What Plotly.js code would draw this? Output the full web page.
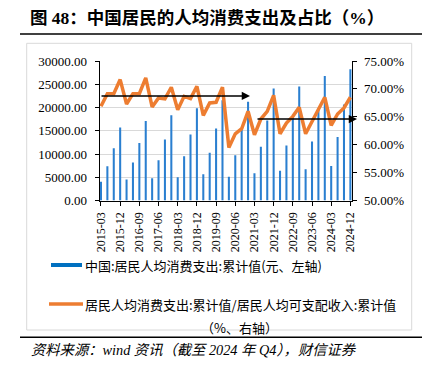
<!DOCTYPE html>
<html>
<head>
<meta charset="utf-8">
<script src="https://cdn.plot.ly/plotly-3.0.1.min.js"></script>
<style>html,body{margin:0;padding:0;background:#fff;}#chart{width:427px;height:365px;}</style>
</head>
<body>
<div id="chart"></div>
<script>
// ---- data ----
const quarters = [
  "2015-03","2015-06","2015-09","2015-12",
  "2016-03","2016-06","2016-09","2016-12",
  "2017-03","2017-06","2017-09","2017-12",
  "2018-03","2018-06","2018-09","2018-12",
  "2019-03","2019-06","2019-09","2019-12",
  "2020-03","2020-06","2020-09","2020-12",
  "2021-03","2021-06","2021-09","2021-12",
  "2022-03","2022-06","2022-09","2022-12",
  "2023-03","2023-06","2023-09","2023-12",
  "2024-03","2024-06","2024-09","2024-12"
];
const consumption = [
  4050, 7390, 11260, 15712,
  4520, 8180, 12340, 17111,
  4810, 8680, 13130, 18322,
  5020, 9540, 14200, 19853,
  5670, 10260, 15500, 21559,
  5082, 9718, 15158, 21210,
  5880, 11550, 17217, 24100,
  6393, 11850, 17878, 24538,
  6700, 12700, 19530, 26796,
  7400, 13630, 20631, 28227
];
const ratio = [
  66.9, 69.15, 69.15, 71.67,
  67.3, 69.15, 69.15, 71.97,
  66.76, 68.37, 68.2, 70.3,
  66.28, 68.67, 68.26, 70.47,
  65.26, 67.48, 67.6, 70.3,
  59.5, 61.96, 62.86, 65.98,
  61.78, 64.6, 65.98, 68.85,
  61.96, 63.88, 65.08, 66.7,
  61.96, 64.18, 66.1, 68.5,
  63.46, 65.5, 66.58, 68.5
];
const tickLabels = ["2015-03","2015-12","2016-09","2017-06","2018-03","2018-12","2019-09",
  "2020-06","2021-03","2021-12","2022-09","2023-06","2024-03","2024-12"];
const trendLevels = [68.74, 64.6];
const seriesNames = ["中国:居民人均消费支出:累计值(元、左轴)",
  "居民人均消费支出:累计值/居民人均可支配收入:累计值", "（%、右轴）"];
const titleText = "图 48：中国居民的人均消费支出及占比（%）";
const sourceText = "资料来源：wind 资讯（截至 2024 年 Q4），财信证券";

// ---- layout helpers ----
const W = 427, H = 365;
const px = v => v / W;
const py = v => 1 - v / H;
const BLUE = "#2a7fd0", ORANGE = "#ED7D31";
const serif = "Liberation Serif, Times New Roman, serif";
const cjk = "Noto Sans CJK SC, Noto Sans, sans-serif";

const traces = [
  {type: "bar", x: quarters, y: consumption, name: seriesNames[0],
   marker: {color: BLUE, line: {width: 0}}, width: 0.32, yaxis: "y", hoverinfo: "none"},
  {type: "scatter", mode: "lines", x: quarters, y: ratio, name: seriesNames[1],
   line: {color: ORANGE, width: 3.5}, yaxis: "y2", hoverinfo: "none"}
];

const layout = {
  width: W, height: H, autosize: false,
  margin: {l: 0, r: 0, t: 0, b: 0, pad: 0},
  paper_bgcolor: "#fff", plot_bgcolor: "rgba(0,0,0,0)",
  showlegend: false,
  font: {family: serif, color: "#000", size: 13},
  xaxis: {
    type: "category", domain: [px(99.7), px(352.3)], range: [-0.2, 39.3],
    tickmode: "array", tickvals: tickLabels, ticktext: tickLabels,
    tickangle: -90, ticks: "outside", ticklen: 4, tickcolor: "#000", tickwidth: 1,
    tickfont: {family: serif, size: 12, color: "#000"},
    showline: true, linecolor: "#000", linewidth: 1, showgrid: false, zeroline: false,
    ticklabelstandoff: 2
  },
  yaxis: {
    domain: [py(200.5), py(61)], range: [0, 30000], dtick: 5000, tick0: 0,
    tickformat: ".2f", ticks: "outside", ticklen: 4, tickcolor: "#000",
    tickfont: {family: serif, size: 13, color: "#000"},
    showline: true, linecolor: "#000", linewidth: 1,
    showgrid: true, gridcolor: "#d9d9d9", gridwidth: 1, zeroline: false,
    ticklabelstandoff: 5
  },
  yaxis2: {
    overlaying: "y", side: "right", anchor: "x", range: [50, 75], dtick: 5, tick0: 50,
    tickformat: ".2f", ticksuffix: "%", ticks: "outside", ticklen: 4, tickcolor: "#000",
    tickfont: {family: serif, size: 13, color: "#000"},
    showline: true, linecolor: "#000", linewidth: 1, showgrid: false, zeroline: false,
    ticklabelstandoff: 4
  },
  shapes: [
    // chart frame
    {type: "rect", xref: "paper", yref: "paper", x0: px(26.7), x1: px(411.7), y0: py(330), y1: py(43.3),
     line: {color: "#d9d9d9", width: 1}, layer: "below"},
    // title rule
    {type: "line", xref: "paper", yref: "paper", x0: px(20), x1: px(422), y0: py(34), y1: py(34),
     line: {color: "#000", width: 1.5}},
    // source rule
    {type: "line", xref: "paper", yref: "paper", x0: px(20), x1: px(422), y0: py(337.3), y1: py(337.3),
     line: {color: "#000", width: 1.5}},
    // legend symbols
    {type: "line", xref: "paper", yref: "paper", x0: px(51), x1: px(82), y0: py(265), y1: py(265),
     line: {color: "#0070C0", width: 4}},
    {type: "line", xref: "paper", yref: "paper", x0: px(49), x1: px(83), y0: py(304), y1: py(304),
     line: {color: ORANGE, width: 3.5}}
  ],
  annotations: [
    {text: "<b>" + titleText + "</b>", xref: "paper", yref: "paper", x: px(28), y: py(18),
     xanchor: "left", yanchor: "middle", showarrow: false,
     font: {family: "Liberation Serif, Noto Sans CJK SC", size: 17.5, color: "#000"}},
    {text: "<i>" + sourceText + "</i>", xref: "paper", yref: "paper", x: px(29), y: py(350),
     xanchor: "left", yanchor: "middle", showarrow: false,
     font: {family: "Liberation Serif, Noto Sans CJK SC", size: 14.3, color: "#000"}},
    {text: seriesNames[0], xref: "paper", yref: "paper", x: px(83), y: py(265),
     xanchor: "left", yanchor: "middle", showarrow: false, font: {family: cjk, size: 13, color: "#000"}},
    {text: seriesNames[1], xref: "paper", yref: "paper", x: px(83), y: py(304),
     xanchor: "left", yanchor: "middle", showarrow: false, font: {family: cjk, size: 13, color: "#000"}},
    {text: seriesNames[2], xref: "paper", yref: "paper", x: px(240), y: py(327),
     xanchor: "center", yanchor: "middle", showarrow: false, font: {family: cjk, size: 13, color: "#000"}},
    // trend arrows
    {text: "", xref: "paper", yref: "y2", x: px(250), y: trendLevels[0],
     showarrow: true, axref: "pixel", ayref: "pixel", ax: -150, ay: 0,
     arrowhead: 2, arrowsize: 1.1, arrowwidth: 1.5, arrowcolor: "#000", standoff: 0, startstandoff: 0},
    {text: "", xref: "paper", yref: "y2", x: px(357), y: trendLevels[1],
     showarrow: true, axref: "pixel", ayref: "pixel", ax: -101, ay: 0,
     arrowhead: 2, arrowsize: 1.1, arrowwidth: 1.5, arrowcolor: "#000", standoff: 0, startstandoff: 0}
  ]
};

Plotly.newPlot("chart", traces, layout, {displayModeBar: false, staticPlot: true});
</script>
</body>
</html>
